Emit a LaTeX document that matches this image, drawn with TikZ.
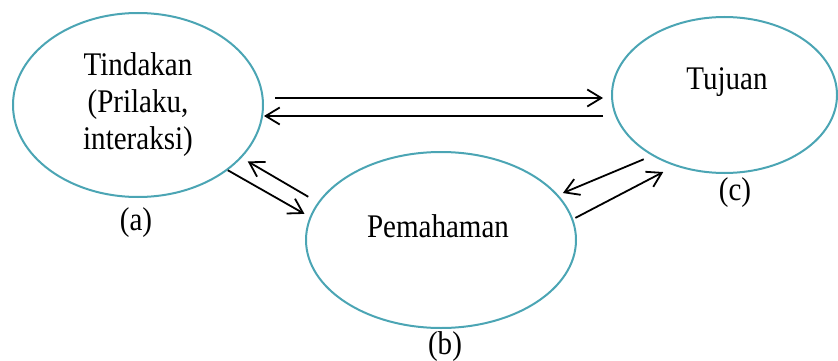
\documentclass[tikz,border=0pt]{standalone}
\usepackage{fontspec}
\setmainfont{Liberation Serif}[FakeStretch=0.88]
\usepackage{tikz}
\usetikzlibrary{arrows.meta,shapes.geometric}
\tikzset{>={Straight Barb[length=14pt,width=17pt]}}
\definecolor{aqua}{RGB}{75,165,180}
\tikzset{
  bubble/.style={ellipse, draw=aqua, line width=2pt, inner sep=0pt, align=center},
  word/.style={inner sep=2pt},
  link/.style={->, line width=1.8pt}
}

\begin{document}
\begin{tikzpicture}[x=1pt, y=-1pt]

  \fontsize{33}{37}\selectfont
  \useasboundingbox (0,0) rectangle (838,361);

  %% the three ellipses
  \node[bubble, minimum width=250pt, minimum height=184pt] (a) at (138,105) {Tindakan\\(Prilaku,\\interaksi)};
  \node[bubble, minimum width=270pt, minimum height=176pt] (b) at (441,240) {};
  \node[bubble, minimum width=225pt, minimum height=156pt] (c) at (724.5,95) {};

  \node[word] (btext) at (438,226) {Pemahaman};
  \node[word] (ctext) at (727,82) {Tujuan};

  %% letters under each ellipse
  \node[word] (alab) at (136,223) {(a)};
  \node[word] (blab) at (445,347) {(b)};
  \node[word] (clab) at (735,193) {(c)};

  \draw[link, shorten <=11pt, shorten >=8pt] ([yshift=7pt]a.east) -- ([yshift=-3pt]c.west); % a->c
  \draw[link, shorten <=8pt] ([yshift=-21pt]c.west) -- ([yshift=-11pt]a.east); % c->a

  \draw[link, shorten >=6pt] (a.-36) -- (b.170); % a->b
  \draw[link, shorten <=11pt, shorten >=7pt] (b.163) -- (a.-27); % b->a

  \draw[link, shorten <=9pt, shorten >=5pt] (c.-140) -- (b.21); % c->b
  \draw[link, shorten <=2.5pt, shorten >=13pt] (b.9) -- (c.-125); % b->c

\end{tikzpicture}
\end{document}
